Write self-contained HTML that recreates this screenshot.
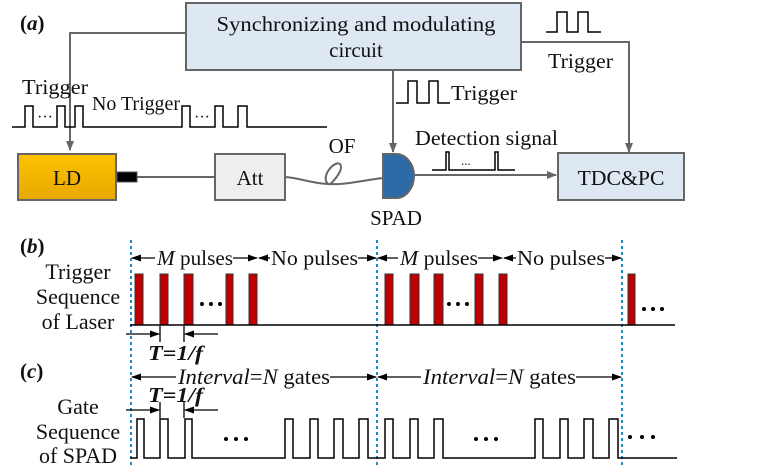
<!DOCTYPE html>
<html><head><style>body{margin:0;background:#fff}svg{display:block}text{font-family:"Liberation Serif",serif;fill:#111}</style></head><body>
<svg width="771" height="471" viewBox="0 0 771 471" xmlns="http://www.w3.org/2000/svg">
<defs>
<marker id="ag" markerWidth="10" markerHeight="10" refX="9" refY="5" orient="auto" markerUnits="userSpaceOnUse"><path d="M0,1 L10,5 L0,9 Z" fill="#666"/></marker>
<marker id="ab" markerWidth="10" markerHeight="8" refX="9" refY="4" orient="auto" markerUnits="userSpaceOnUse"><path d="M0,0.5 L10,4 L0,7.5 Z" fill="#000"/></marker>
<linearGradient id="og" x1="0" y1="0" x2="0" y2="1"><stop offset="0" stop-color="#ffc200"/><stop offset="1" stop-color="#e8a800"/></linearGradient>
</defs>
<text x="20" y="30" font-size="21" font-weight="bold">(<tspan font-style="italic">a</tspan>)</text>
<rect x="186" y="3" width="335" height="67" fill="#dde8f2" stroke="#666" stroke-width="2"/>
<text x="356" y="31" font-size="21" text-anchor="middle" textLength="279" lengthAdjust="spacingAndGlyphs">Synchronizing and modulating</text>
<text x="356" y="57" font-size="21" text-anchor="middle">circuit</text>
<g stroke="#666" stroke-width="2" fill="none">
<path d="M186,33 H70 V150" marker-end="url(#ag)"/>
<path d="M393,70 V152" marker-end="url(#ag)"/>
<path d="M521,42 H629 V152" marker-end="url(#ag)"/>
<path d="M414,175 H556" marker-end="url(#ag)"/>
<path d="M137,177 H215"/>
<path d="M285,177 C300,178 310,183 328,184 C320,176 335,160 340,164 C345,170 330,185 330,184 C345,185 365,180 383,178"/>
</g>
<rect x="18" y="154" width="98" height="46" fill="url(#og)" stroke="#666" stroke-width="2"/>
<text x="67" y="185" font-size="21" text-anchor="middle">LD</text>
<rect x="117" y="172" width="20" height="10" fill="#000" stroke="#555"/>
<rect x="215" y="154" width="70" height="46" fill="#eee" stroke="#666" stroke-width="2"/>
<text x="250" y="185" font-size="21" text-anchor="middle">Att</text>
<text x="342" y="153" font-size="21" text-anchor="middle">OF</text>
<path d="M383,154 H396 A18,22 0 0 1 396,198 H383 Z" fill="#2e6aa6" stroke="#666" stroke-width="2"/>
<text x="396" y="225" font-size="21" text-anchor="middle">SPAD</text>
<rect x="558" y="153" width="126" height="47" fill="#dde8f2" stroke="#666" stroke-width="2"/>
<text x="621" y="185" font-size="21" text-anchor="middle" textLength="87" lengthAdjust="spacingAndGlyphs">TDC&amp;PC</text>
<g stroke="#000" stroke-width="1.5" fill="none">
<path d="M12,127 H25 V106 H33 V127 H57 V106 H65 V127 H75 V106 H83 V127 H182 V106 H190 V127 H215 V106 H223 V127 H238 V106 H247 V127 H327"/>
<path d="M396,103 H408 V81 H417 V103 H429 V81 H438 V103 H450"/>
<path d="M546,32 H557 V12 H567 V32 H578 V12 H588 V32 H601"/>
<path d="M432,170 H446 V152 H449 V170 H495 V152 H498 V170 H515"/>
</g>
<text x="37" y="122" font-size="16">···</text>
<text x="194" y="122" font-size="16">···</text>
<text x="22" y="94" font-size="21" textLength="66" lengthAdjust="spacingAndGlyphs">Trigger</text>
<text x="92" y="110" font-size="20" textLength="88" lengthAdjust="spacingAndGlyphs">No Trigger</text>
<text x="451" y="100" font-size="21" textLength="66" lengthAdjust="spacingAndGlyphs">Trigger</text>
<text x="548" y="68" font-size="21" textLength="65" lengthAdjust="spacingAndGlyphs">Trigger</text>
<text x="415" y="145" font-size="21" textLength="143" lengthAdjust="spacingAndGlyphs">Detection signal</text>
<text x="461" y="165" font-size="13">...</text>
<g stroke="#1e88d0" stroke-width="2" stroke-dasharray="3,3"><path d="M131,240 V466 M377,240 V466 M622,240 V466"/></g>
<text x="20" y="253" font-size="21" font-weight="bold">(<tspan font-style="italic">b</tspan>)</text>
<text x="78" y="279" font-size="22" text-anchor="middle">Trigger</text>
<text x="78" y="304" font-size="22" text-anchor="middle">Sequence</text>
<text x="78" y="329" font-size="22" text-anchor="middle">of Laser</text>
<g fill="#c00000" stroke="#333" stroke-width="1">
<rect x="135" y="274" width="8" height="51"/><rect x="160" y="274" width="8" height="51"/><rect x="184" y="274" width="9" height="51"/><rect x="226" y="274" width="7" height="51"/><rect x="249" y="274" width="8" height="51"/>
<rect x="385" y="274" width="8" height="51"/><rect x="410" y="274" width="9" height="51"/><rect x="434" y="274" width="9" height="51"/><rect x="475" y="274" width="8" height="51"/><rect x="499" y="274" width="8" height="51"/>
<rect x="628" y="274" width="7" height="51"/>
</g>
<path d="M130,325 H675" stroke="#000" stroke-width="1.5"/>
<g fill="#000"><circle cx="202" cy="304" r="2"/><circle cx="211" cy="304" r="2"/><circle cx="220" cy="304" r="2"/>
<circle cx="449" cy="304" r="2"/><circle cx="458" cy="304" r="2"/><circle cx="467" cy="304" r="2"/>
<circle cx="644" cy="309" r="2"/><circle cx="653" cy="309" r="2"/><circle cx="662" cy="309" r="2"/>
<circle cx="226" cy="439" r="2"/><circle cx="236" cy="439" r="2"/><circle cx="246" cy="439" r="2"/>
<circle cx="476" cy="439" r="2"/><circle cx="486" cy="439" r="2"/><circle cx="496" cy="439" r="2"/>
<circle cx="630" cy="437" r="2"/><circle cx="642" cy="437" r="2"/><circle cx="653" cy="437" r="2"/></g>
<g stroke="#000" stroke-width="1.3" fill="none">
<path d="M155,258 H132" marker-end="url(#ab)"/><path d="M233,258 H257" marker-end="url(#ab)"/>
<path d="M270,258 H259" marker-end="url(#ab)"/><path d="M358,258 H376" marker-end="url(#ab)"/>
<path d="M398,258 H378" marker-end="url(#ab)"/><path d="M478,258 H502" marker-end="url(#ab)"/>
<path d="M516,258 H504" marker-end="url(#ab)"/><path d="M605,258 H621" marker-end="url(#ab)"/>
<path d="M126,334 H159" marker-end="url(#ab)"/><path d="M160,326 V342 M184,326 V342"/><path d="M218,334 H185" marker-end="url(#ab)"/>
<path d="M176,377 H132" marker-end="url(#ab)"/><path d="M330,377 H376" marker-end="url(#ab)"/>
<path d="M421,377 H378" marker-end="url(#ab)"/><path d="M576,377 H621" marker-end="url(#ab)"/>
<path d="M126,410 H159" marker-end="url(#ab)"/><path d="M160,402 V418 M184,402 V418"/><path d="M218,410 H185" marker-end="url(#ab)"/>
</g>
<text x="157" y="265" font-size="21" textLength="76" lengthAdjust="spacingAndGlyphs"><tspan font-style="italic">M</tspan> pulses</text>
<text x="271" y="265" font-size="21" textLength="87" lengthAdjust="spacingAndGlyphs">No pulses</text>
<text x="400" y="265" font-size="21" textLength="78" lengthAdjust="spacingAndGlyphs"><tspan font-style="italic">M</tspan> pulses</text>
<text x="517" y="265" font-size="21" textLength="88" lengthAdjust="spacingAndGlyphs">No pulses</text>
<text x="148" y="360" font-size="21" font-weight="bold" font-style="italic" textLength="55" lengthAdjust="spacingAndGlyphs">T=1/f</text>
<text x="20" y="378" font-size="21" font-weight="bold">(<tspan font-style="italic">c</tspan>)</text>
<text x="178" y="384" font-size="22" textLength="152" lengthAdjust="spacingAndGlyphs"><tspan font-style="italic">Interval</tspan>=<tspan font-style="italic">N</tspan> gates</text>
<text x="423" y="384" font-size="22" textLength="153" lengthAdjust="spacingAndGlyphs"><tspan font-style="italic">Interval</tspan>=<tspan font-style="italic">N</tspan> gates</text>
<text x="148" y="402" font-size="21" font-weight="bold" font-style="italic" textLength="55" lengthAdjust="spacingAndGlyphs">T=1/f</text>
<text x="78" y="414" font-size="22" text-anchor="middle">Gate</text>
<text x="78" y="439" font-size="22" text-anchor="middle">Sequence</text>
<text x="78" y="463" font-size="22" text-anchor="middle">of SPAD</text>
<path d="M130,458 H137 V419 H144 V458 H160 V419 H168 V458 H185 V419 H192 V458 H285 V419 H293 V458 H310 V419 H318 V458 H334 V419 H343 V458 H359 V419 H368 V458 H385 V419 H393 V458 H410 V419 H418 V458 H434 V419 H443 V458 H535 V419 H543 V458 H560 V419 H568 V458 H584 V419 H593 V458 H609 V419 H618 V458 H677" stroke="#000" stroke-width="1.5" fill="none"/>
</svg>
</body></html>
